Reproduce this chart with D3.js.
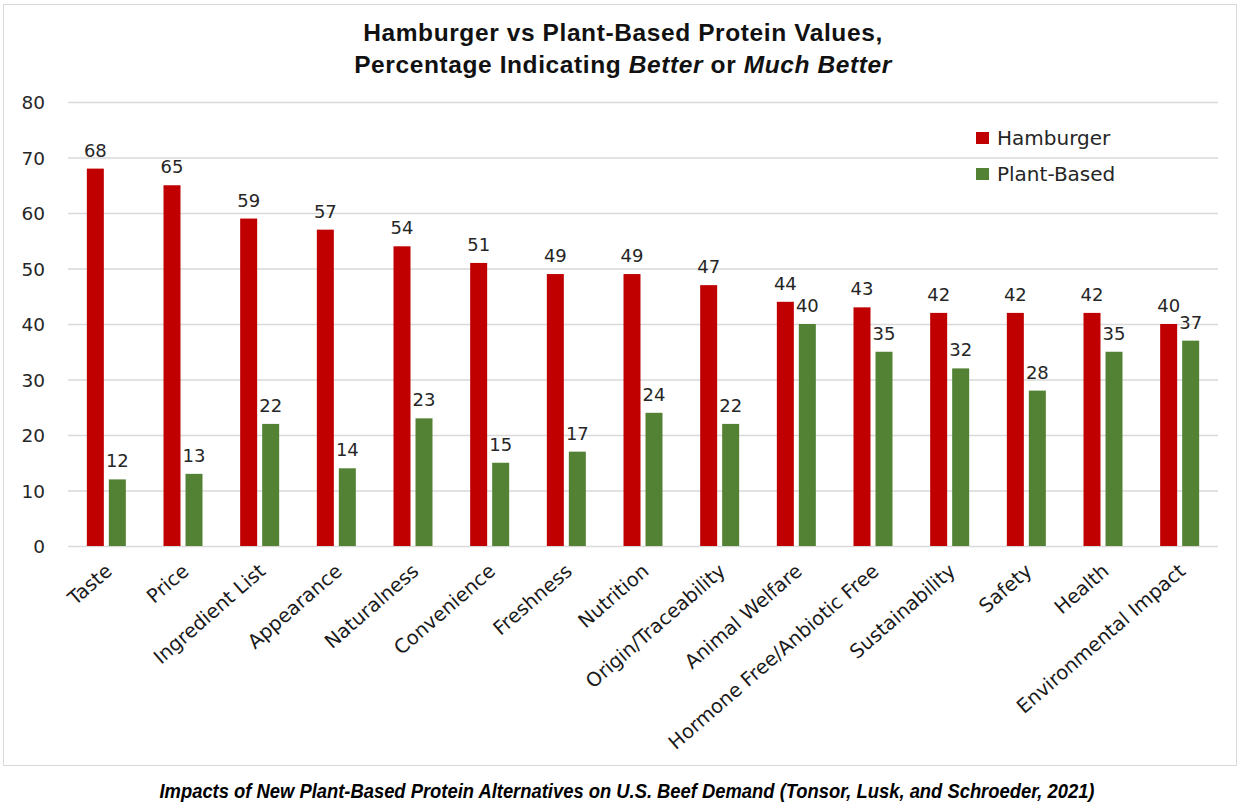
<!DOCTYPE html>
<html><head><meta charset="utf-8">
<script src="https://cdn.jsdelivr.net/npm/d3@7"></script>
<style>body{margin:0;background:#fff}svg{display:block}</style>
</head><body>
<script>
const categories = ["Taste","Price","Ingredient List","Appearance","Naturalness","Convenience","Freshness","Nutrition","Origin/Traceability","Animal Welfare","Hormone Free/Anbiotic Free","Sustainability","Safety","Health","Environmental Impact"];
const hamburger = [68,65,59,57,54,51,49,49,47,44,43,42,42,42,40];
const plantBased = [12,13,22,14,23,15,17,24,22,40,35,32,28,35,37];
const seriesNames = ["Hamburger","Plant-Based"];
const seriesColors = ["#C00000","#548235"];
const yTicks = [0,10,20,30,40,50,60,70,80];

(function(){
const W=1246,H=808;
const svg=d3.select("body").append("svg").attr("width",W).attr("height",H);
svg.append("rect").attr("x",3.5).attr("y",4.5).attr("width",1233).attr("height",761)
  .attr("fill","#fff").attr("stroke","#d9d9d9").attr("stroke-width",1);

const pl=68,pr=1218,pt=102,pb=546;
const x=d3.scaleBand().domain(categories).range([pl,pr]);
const y=d3.scaleLinear().domain([0,80]).range([pb,pt]);
const font="'DejaVu Sans', Verdana, sans-serif";

svg.append("g").selectAll("line").data(yTicks).join("line")
  .attr("x1",pl).attr("x2",pr).attr("y1",d=>y(d)+0.5).attr("y2",d=>y(d)+0.5)
  .attr("stroke","#d9d9d9").attr("stroke-width",1.5);
const yAxis=d3.axisLeft(y).tickValues(yTicks).tickSize(0).tickPadding(0);
const ga=svg.append("g").attr("transform",`translate(${pl-23},0)`).call(yAxis);
ga.select(".domain").remove();
ga.selectAll("text").attr("font-family",font).attr("font-size",18.5).attr("fill","#262626").attr("dy","0.36em");

const bw=17,gap=5;
const data=categories.map((c,i)=>({c,v:[hamburger[i],plantBased[i]]}));
const g=svg.append("g");
data.forEach(d=>{
  const cx=x(d.c)+x.bandwidth()/2;
  d.v.forEach((v,k)=>{
    const bx = k===0 ? cx-gap/2-bw : cx+gap/2;
    g.append("rect").attr("x",bx).attr("y",y(v)).attr("width",bw).attr("height",y(0)-y(v))
      .attr("fill",seriesColors[k]);
    g.append("text").attr("x",bx+bw/2).attr("y",y(v)-12).attr("text-anchor","middle")
      .attr("font-family",font).attr("font-size",18).attr("fill","#262626").text(v);
  });
});

const xAxis=d3.axisBottom(x).tickSize(0).tickPadding(0);
const gx=svg.append("g").attr("transform",`translate(0,${pb})`).call(xAxis);
gx.select(".domain").remove();
gx.selectAll(".tick text").attr("font-family",font).attr("font-size",19.5).attr("fill","#1a1a1a")
  .attr("text-anchor","end").attr("dy",0)
  .attr("transform","translate(7,27) rotate(-41)");

const t=svg.append("text").attr("text-anchor","middle").attr("font-family","'Liberation Sans', Arial, sans-serif")
  .attr("font-weight","bold").attr("font-size",24.5).attr("letter-spacing",0.6).attr("fill","#111");
t.append("tspan").attr("x",623).attr("y",41).text("Hamburger vs Plant-Based Protein Values,");
const t2=t.append("tspan").attr("x",623).attr("y",73);
t2.append("tspan").text("Percentage Indicating ");
t2.append("tspan").attr("font-style","italic").text("Better");
t2.append("tspan").text(" or ");
t2.append("tspan").attr("font-style","italic").text("Much Better");

seriesNames.forEach((n,k)=>{
  const ly=138+k*36;
  svg.append("rect").attr("x",976).attr("y",ly-6).attr("width",13).attr("height",12).attr("fill",seriesColors[k]);
  svg.append("text").attr("x",997).attr("y",ly).attr("dy","0.36em").attr("font-family",font)
    .attr("font-size",20).attr("fill","#262626").text(n);
});

svg.append("text").attr("x",627).attr("y",798).attr("text-anchor","middle")
  .attr("font-family","'Liberation Sans', Arial, sans-serif").attr("font-weight","bold")
  .attr("font-style","italic").attr("font-size",21).attr("fill","#000")
  .attr("textLength",935).attr("lengthAdjust","spacingAndGlyphs")
  .text("Impacts of New Plant-Based Protein Alternatives on U.S. Beef Demand (Tonsor, Lusk, and Schroeder, 2021)");
})();
</script>
</body></html>
